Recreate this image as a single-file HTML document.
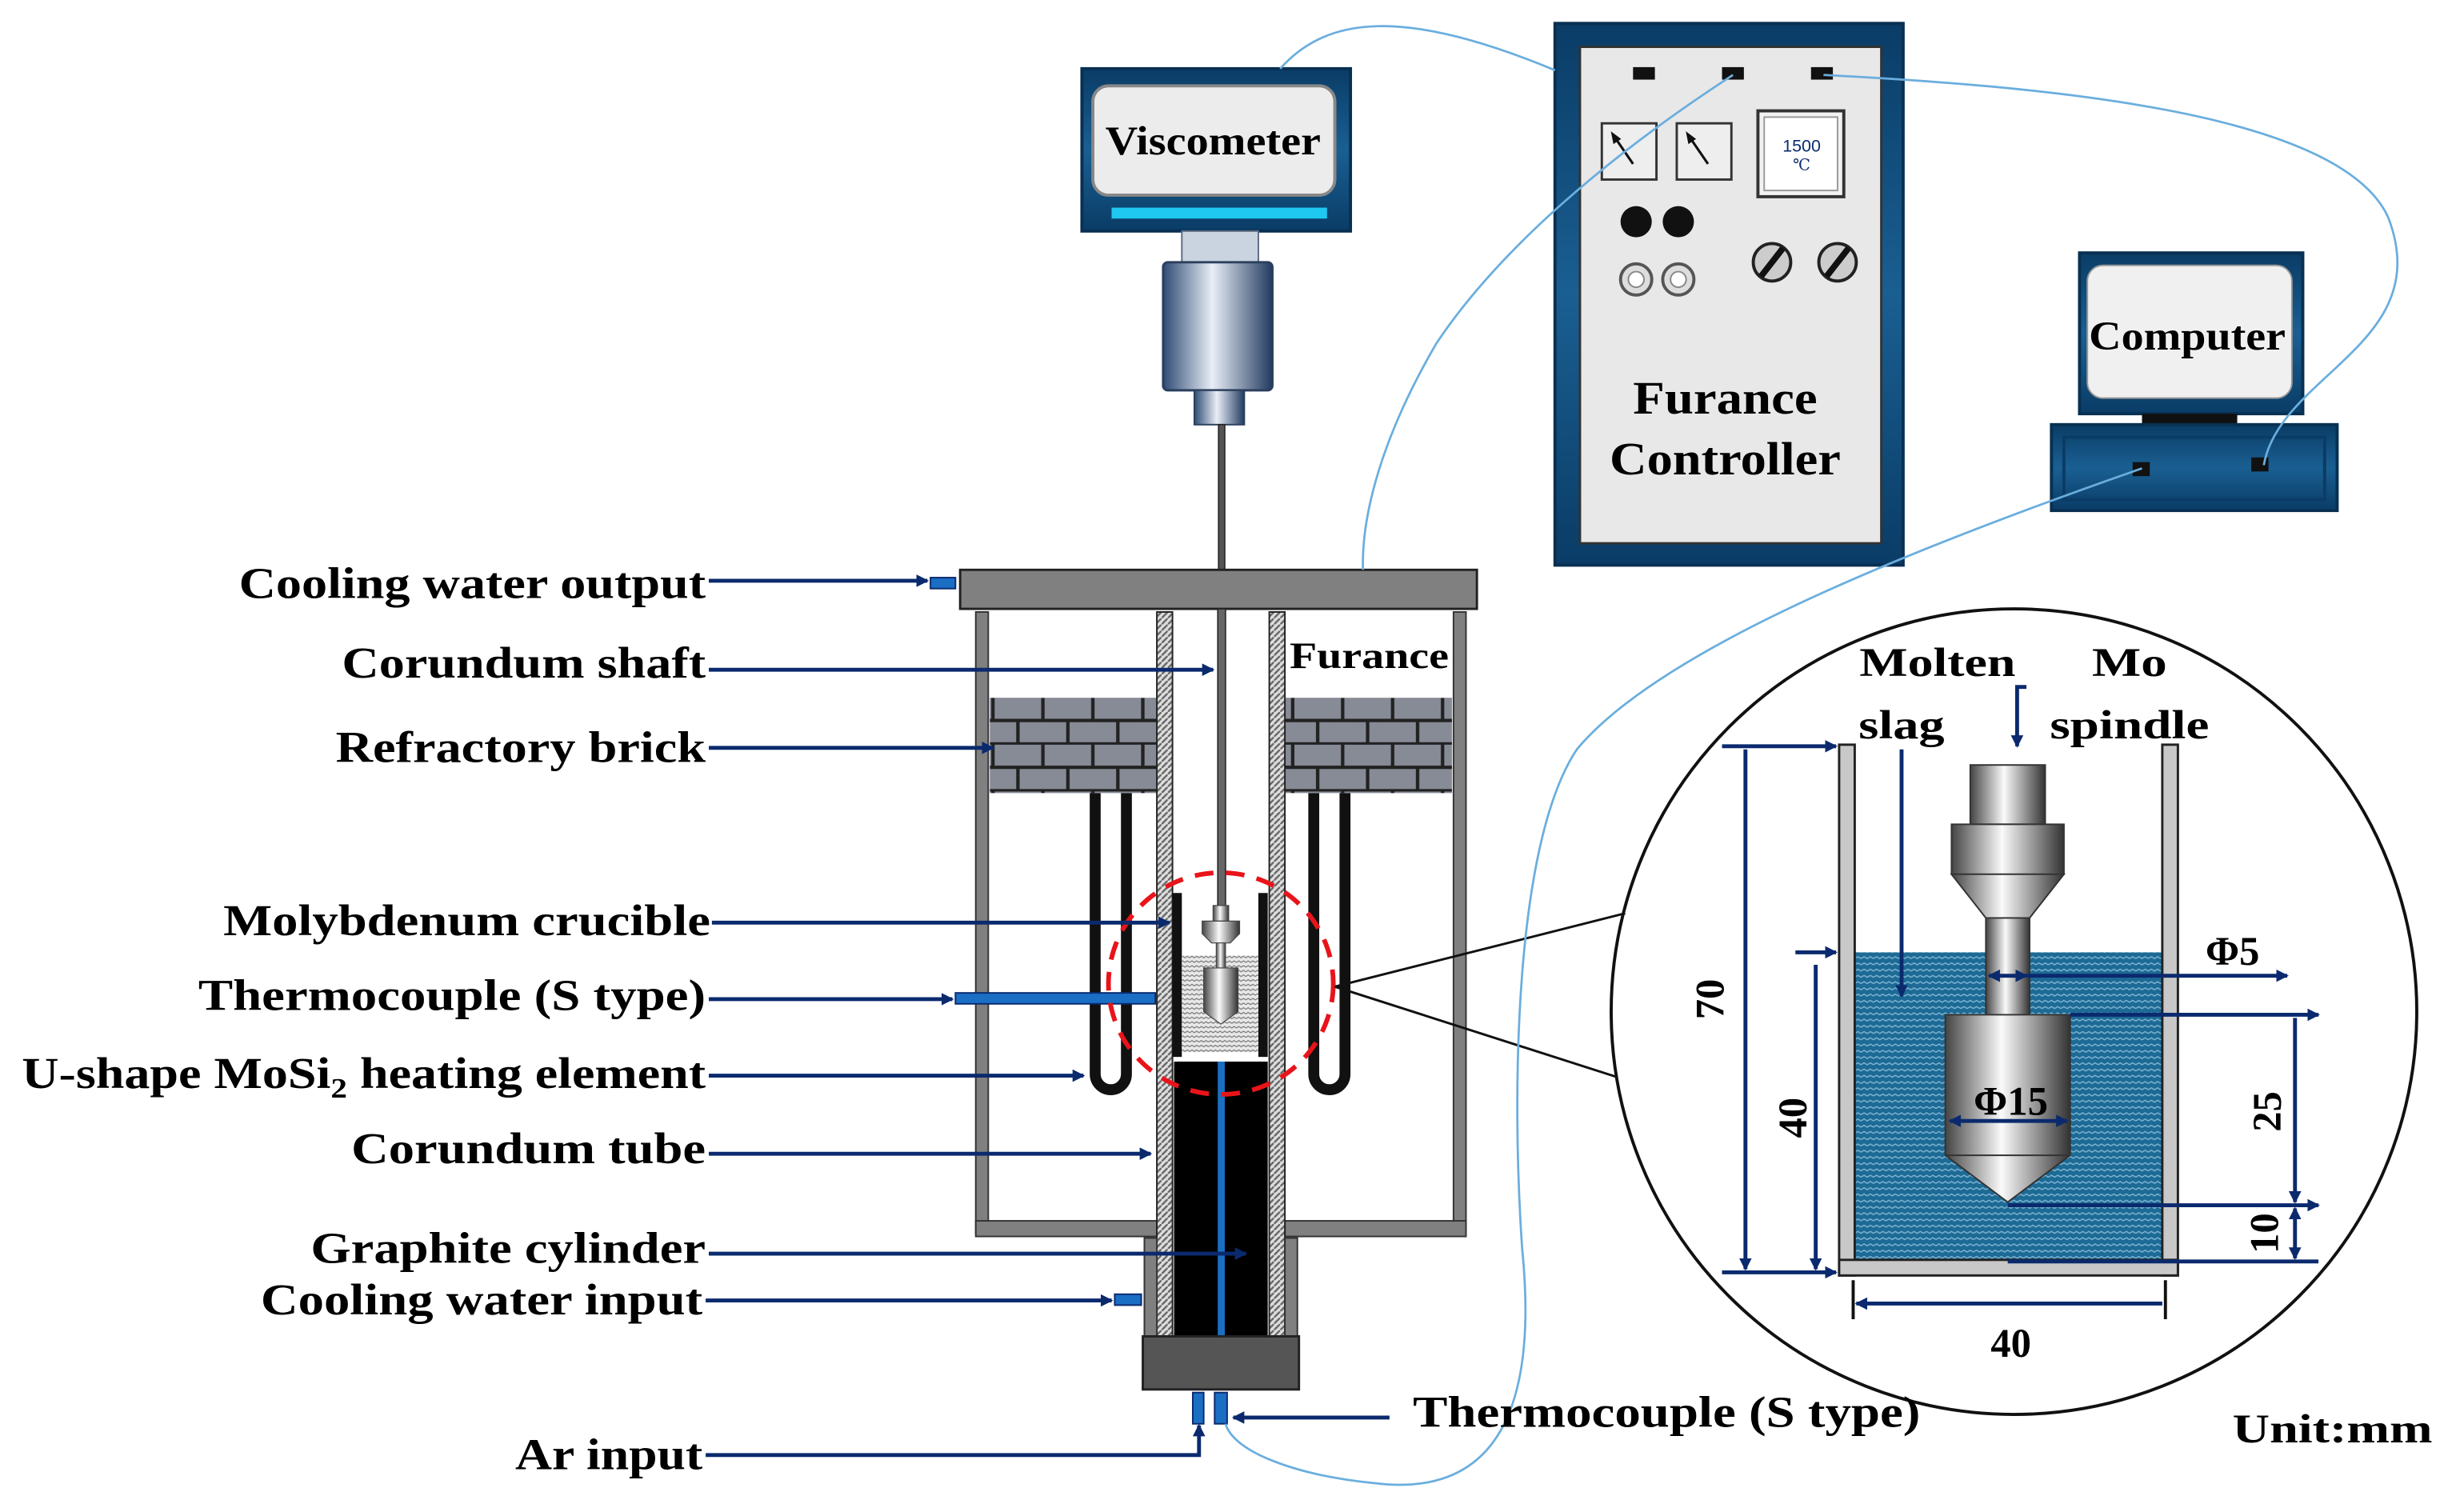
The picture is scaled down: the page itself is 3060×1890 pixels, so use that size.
<!DOCTYPE html>
<html><head><meta charset="utf-8"><style>
html,body{margin:0;padding:0;background:#fff}
svg{display:block}
text{font-family:"Liberation Serif","DejaVu Serif",serif;font-weight:bold;fill:#000}
</style></head><body>
<svg width="3060" height="1890" viewBox="0 0 1568 968.5" preserveAspectRatio="none" xmlns="http://www.w3.org/2000/svg">
<defs>
<marker id="ar" markerWidth="8" markerHeight="8" refX="7" refY="4" orient="auto" markerUnits="userSpaceOnUse"><path d="M0,0 L8,4 L0,8 Z" fill="#0b2a6e"/></marker>
<marker id="al" markerWidth="8" markerHeight="8" refX="1" refY="4" orient="auto" markerUnits="userSpaceOnUse"><path d="M8,0 L0,4 L8,8 Z" fill="#0b2a6e"/></marker>
<pattern id="brick" width="64" height="30" patternUnits="userSpaceOnUse" x="634" y="447">
<rect width="64" height="30" fill="#868b96"/>
<path d="M0,14.5H64 M0,29.5H64 M2,0V15 M34,0V15 M18,15V30 M50,15V30" stroke="#222" stroke-width="2.2"/>
</pattern>
<pattern id="hatch" width="4" height="4" patternUnits="userSpaceOnUse">
<rect width="4" height="4" fill="#ddd"/><path d="M0,4 L4,0" stroke="#666" stroke-width="1.2"/>
</pattern>
<pattern id="wave" width="8" height="4" patternUnits="userSpaceOnUse">
<rect width="8" height="4" fill="#1d6a95"/><path d="M0,2 L2,0.8 L4,2 L6,0.8 L8,2" stroke="#7fb6d4" stroke-width="0.7" fill="none"/>
</pattern>
<pattern id="wave2" width="6" height="3" patternUnits="userSpaceOnUse">
<rect width="6" height="3" fill="#e8e8e8"/><path d="M0,1.5 L1.5,0.5 L3,1.5 L4.5,0.5 L6,1.5" stroke="#777" stroke-width="0.6" fill="none"/>
</pattern>
<linearGradient id="metal" x1="0" x2="1" y1="0" y2="0">
<stop offset="0" stop-color="#444"/><stop offset="0.45" stop-color="#fafafa"/><stop offset="1" stop-color="#333"/>
</linearGradient>
<linearGradient id="bluecyl" x1="0" x2="1">
<stop offset="0" stop-color="#2f4b74"/><stop offset="0.45" stop-color="#e8eef6"/><stop offset="1" stop-color="#223a60"/>
</linearGradient>
<linearGradient id="frame" x1="0" x2="0" y1="0" y2="1">
<stop offset="0" stop-color="#0a3c66"/><stop offset="0.5" stop-color="#1a5f92"/><stop offset="1" stop-color="#0a3c66"/>
</linearGradient>
</defs>

<!-- Viscometer -->
<rect x="693" y="44" width="172" height="104" fill="url(#frame)" stroke="#083052" stroke-width="2"/>
<rect x="700" y="55" width="155" height="70" rx="10" fill="#ececec" stroke="#888" stroke-width="2"/>
<text x="777" y="99" font-size="26" text-anchor="middle" textLength="138" lengthAdjust="spacingAndGlyphs">Viscometer</text>
<rect x="712" y="133" width="138" height="7" fill="#1ec8f0"/>
<rect x="757" y="148" width="49" height="20" fill="#c9d4e0" stroke="#5a6b80"/>
<rect x="745" y="168" width="70" height="82" rx="3" fill="url(#bluecyl)" stroke="#2b3f5e" stroke-width="1.5"/>
<rect x="765" y="250" width="32" height="22" fill="url(#bluecyl)" stroke="#2b3f5e"/>
<rect x="780.5" y="272" width="4" height="93" fill="#555" stroke="#222" stroke-width="0.8"/>

<!-- Furnace controller -->
<rect x="996" y="15" width="223" height="347" fill="url(#frame)" stroke="#083052" stroke-width="2"/>
<rect x="1012" y="30" width="193" height="318" fill="#e8e8e8" stroke="#333" stroke-width="1.5"/>
<rect x="1046" y="43" width="14" height="8" fill="#111"/>
<rect x="1103" y="43" width="14" height="8" fill="#111"/>
<rect x="1160" y="43" width="14" height="8" fill="#111"/>
<rect x="1026" y="79" width="35" height="36" fill="#eee" stroke="#333" stroke-width="1.5"/>
<rect x="1074" y="79" width="35" height="36" fill="#eee" stroke="#333" stroke-width="1.5"/>
<path d="M1046,105 L1033,86 M1033,86 l1,5 l3,-2 z M1094,105 L1081,86 M1081,86 l1,5 l3,-2 z" stroke="#111" stroke-width="1.6" fill="#111"/>
<rect x="1126" y="71" width="55" height="55" fill="#f2f2f2" stroke="#333" stroke-width="2"/>
<rect x="1130" y="75" width="47" height="47" fill="#fff" stroke="#999"/>
<text x="1154" y="97" font-size="11" text-anchor="middle" style="fill:#0a2a6e;font-weight:normal;font-family:'Liberation Sans',sans-serif">1500</text>
<text x="1154" y="109" font-size="10" text-anchor="middle" style="fill:#0a2a6e;font-weight:normal">℃</text>
<circle cx="1048" cy="142" r="10" fill="#111"/><circle cx="1075" cy="142" r="10" fill="#111"/>
<circle cx="1048" cy="179" r="10" fill="#ddd" stroke="#555" stroke-width="2"/><circle cx="1048" cy="179" r="5" fill="#fff" stroke="#888"/>
<circle cx="1075" cy="179" r="10" fill="#ddd" stroke="#555" stroke-width="2"/><circle cx="1075" cy="179" r="5" fill="#fff" stroke="#888"/>
<circle cx="1135" cy="168" r="12" fill="#ccc" stroke="#222" stroke-width="2"/><path d="M1128,177 L1142,159" stroke="#111" stroke-width="4"/>
<circle cx="1177" cy="168" r="12" fill="#ccc" stroke="#222" stroke-width="2"/><path d="M1170,177 L1184,159" stroke="#111" stroke-width="4"/>
<text x="1105" y="265" font-size="30" text-anchor="middle" textLength="118" lengthAdjust="spacingAndGlyphs">Furance</text>
<text x="1105" y="304" font-size="30" text-anchor="middle" textLength="148" lengthAdjust="spacingAndGlyphs">Controller</text>

<!-- Computer -->
<rect x="1332" y="162" width="143" height="103" fill="url(#frame)" stroke="#083052" stroke-width="2"/>
<rect x="1337" y="170" width="131" height="85" rx="10" fill="#f0f0f0" stroke="#999"/>
<text x="1401" y="224" font-size="26" text-anchor="middle" textLength="126" lengthAdjust="spacingAndGlyphs">Computer</text>
<rect x="1372" y="265" width="61" height="8" fill="#111"/>
<rect x="1314" y="272" width="183" height="55" fill="url(#frame)" stroke="#083052" stroke-width="2"/>
<rect x="1322" y="280" width="167" height="40" fill="none" stroke="#0a3c66" stroke-width="2"/>
<rect x="1366" y="296" width="11" height="9" fill="#111"/>
<rect x="1442" y="293" width="11" height="9" fill="#111"/>

<!-- Furnace body -->
<rect x="615" y="365" width="331" height="25" fill="#808080" stroke="#222" stroke-width="1.5"/>
<rect x="596" y="370" width="16" height="7" fill="#1a6fc4" stroke="#0b2a6e"/>
<rect x="625" y="392" width="8" height="398" fill="#808080" stroke="#333"/>
<rect x="931" y="392" width="8" height="398" fill="#808080" stroke="#333"/>
<rect x="625" y="782" width="116" height="10" fill="#808080" stroke="#333"/>
<rect x="823" y="782" width="116" height="10" fill="#808080" stroke="#333"/>
<rect x="634" y="447" width="107" height="61" fill="url(#brick)"/>
<rect x="823" y="447" width="107" height="61" fill="url(#brick)"/>
<text x="877" y="428" font-size="24" text-anchor="middle" textLength="102" lengthAdjust="spacingAndGlyphs">Furance</text>
<!-- shaft inside furnace -->
<rect x="780" y="390" width="5" height="192" fill="#666" stroke="#222" stroke-width="0.8"/>
<!-- heating elements -->
<path d="M701.5,508 V688 a10,10 0 0 0 20,0 V508" fill="none" stroke="#111" stroke-width="7"/>
<path d="M841.5,508 V688 a10,10 0 0 0 20,0 V508" fill="none" stroke="#111" stroke-width="7"/>
<!-- inner tubes -->
<rect x="741" y="392" width="10" height="465" fill="url(#hatch)" stroke="#222"/>
<rect x="813" y="392" width="10" height="465" fill="url(#hatch)" stroke="#222"/>
<rect x="733" y="793" width="8" height="63" fill="#808080" stroke="#333"/>
<rect x="823" y="793" width="8" height="63" fill="#808080" stroke="#333"/>
<rect x="714" y="829" width="17" height="7" fill="#1a6fc4" stroke="#0b2a6e"/>
<!-- crucible -->
<rect x="751" y="572" width="6" height="105" fill="#111"/>
<rect x="806" y="572" width="6" height="105" fill="#111"/>
<rect x="757" y="612" width="49" height="62" fill="url(#wave2)"/>
<rect x="752" y="680" width="60" height="176" fill="#000"/>
<rect x="780" y="680" width="4.5" height="176" fill="#1a6fc4"/>
<rect x="777" y="580" width="10" height="10" fill="url(#metal)" stroke="#444" stroke-width="0.6"/>
<path d="M770,590 H794 V598 L788,604 H776 L770,598 Z" fill="url(#metal)" stroke="#444" stroke-width="0.6"/>
<rect x="779" y="604" width="6" height="16" fill="url(#metal)" stroke="#444" stroke-width="0.5"/>
<path d="M771,620 H793 V648 L782,656 L771,648 Z" fill="url(#metal)" stroke="#444" stroke-width="0.6"/>
<rect x="732" y="856" width="100" height="34" fill="#555" stroke="#222" stroke-width="1.5"/>
<rect x="764" y="892" width="7" height="20" fill="#1a6fc4" stroke="#0b2a6e"/>
<rect x="778" y="892" width="8" height="20" fill="#1a6fc4" stroke="#0b2a6e"/>
<rect x="612" y="636" width="128" height="7" fill="#1a6fc4" stroke="#0b2a6e"/>
<ellipse cx="782" cy="630" rx="72" ry="71" fill="none" stroke="#e8141a" stroke-width="3" stroke-dasharray="12,8"/>

<!-- callout lines and circle -->
<path d="M855,632 L1041,585 M855,632 L1036,690" stroke="#111" stroke-width="1.5" fill="none"/>
<circle cx="1290" cy="648" r="258" fill="none" stroke="#111" stroke-width="2"/>

<!-- Light blue cables -->
<g fill="none" stroke="#6aaede" stroke-width="1.4">
<path d="M820,44 C850,10 900,5 996,45"/>
<path d="M1110,48 C1030,100 960,160 920,220 C885,280 872,330 873,365"/>
<path d="M1168,48 C1300,55 1500,70 1530,140 C1560,220 1460,240 1450,298"/>
<path d="M1372,300 C1200,360 1060,420 1010,480 C970,540 968,700 975,800 C985,900 960,960 880,950 C830,945 790,930 785,912"/>
</g>

<!-- Inset detail -->
<rect x="1188" y="610" width="197" height="197" fill="url(#wave)"/>
<rect x="1178" y="477" width="10" height="340" fill="#c8c8c8" stroke="#222" stroke-width="1.5"/>
<rect x="1385" y="477" width="10" height="340" fill="#c8c8c8" stroke="#222" stroke-width="1.5"/>
<rect x="1178" y="807" width="217" height="10" fill="#c8c8c8" stroke="#222" stroke-width="1.5"/>
<rect x="1262" y="490" width="48" height="38" fill="url(#metal)" stroke="#333"/>
<rect x="1250" y="528" width="72" height="32" fill="url(#metal)" stroke="#333"/>
<path d="M1250,560 H1322 L1300,588 H1272 Z" fill="url(#metal)" stroke="#333"/>
<rect x="1272" y="588" width="28" height="62" fill="url(#metal)" stroke="#333"/>
<path d="M1246,650 H1326 V740 L1286,770 L1246,740 Z" fill="url(#metal)" stroke="#333"/>
<path d="M1246,740 H1326" stroke="#333"/>

<g stroke="#0b2a6e" stroke-width="2.5" fill="none">
<path d="M1103,478 H1176" marker-end="url(#ar)"/>
<path d="M1103,815 H1176" marker-end="url(#ar)"/>
<path d="M1118,480 V813" marker-end="url(#ar)"/>
<path d="M1150,610 H1176" marker-end="url(#ar)"/>
<path d="M1163,618 V813" marker-end="url(#ar)"/>
<path d="M1218,480 V638" marker-end="url(#ar)"/>
<path d="M1298,440 H1292 V478" marker-end="url(#ar)"/>
<path d="M1274,625 H1298" marker-start="url(#al)" marker-end="url(#ar)"/>
<path d="M1298,625 H1465" marker-end="url(#ar)"/>
<path d="M1326,650 H1485" marker-end="url(#ar)"/>
<path d="M1470,652 V770" marker-end="url(#ar)"/>
<path d="M1286,772 H1485" marker-end="url(#ar)"/>
<path d="M1470,774 V806" marker-start="url(#al)" marker-end="url(#ar)"/>
<path d="M1286,808 H1485"/>
<path d="M1249,718 H1324" marker-start="url(#al)" marker-end="url(#ar)"/>
<path d="M1189,835 H1385" marker-start="url(#al)"/>
</g>
<path d="M1187,820 V845 M1387,820 V845" stroke="#111" stroke-width="2"/>
<text x="1241" y="433" font-size="26" text-anchor="middle" textLength="100" lengthAdjust="spacingAndGlyphs">Molten</text>
<text x="1218" y="473" font-size="26" text-anchor="middle" textLength="55" lengthAdjust="spacingAndGlyphs">slag</text>
<text x="1364" y="433" font-size="26" text-anchor="middle" textLength="48" lengthAdjust="spacingAndGlyphs">Mo</text>
<text x="1364" y="473" font-size="26" text-anchor="middle" textLength="102" lengthAdjust="spacingAndGlyphs">spindle</text>
<text x="1430" y="618" font-size="26" text-anchor="middle">Φ5</text>
<text x="1288" y="714" font-size="26" text-anchor="middle">Φ15</text>
<text x="1288" y="869" font-size="26" text-anchor="middle">40</text>
<text transform="translate(1104,640) rotate(-90)" font-size="26" text-anchor="middle">70</text>
<text transform="translate(1157,716) rotate(-90)" font-size="26" text-anchor="middle">40</text>
<text transform="translate(1461,712) rotate(-90)" font-size="26" text-anchor="middle">25</text>
<text transform="translate(1459,790) rotate(-90)" font-size="26" text-anchor="middle">10</text>
<text x="1494" y="924" font-size="26" text-anchor="middle" textLength="128" lengthAdjust="spacingAndGlyphs">Unit:mm</text>

<!-- Left labels & arrows -->
<g font-size="28">
<text x="153" y="383" textLength="299" lengthAdjust="spacingAndGlyphs">Cooling water output</text>
<text x="219" y="434" textLength="233" lengthAdjust="spacingAndGlyphs">Corundum shaft</text>
<text x="215" y="488" textLength="237" lengthAdjust="spacingAndGlyphs">Refractory brick</text>
<text x="143" y="599" textLength="312" lengthAdjust="spacingAndGlyphs">Molybdenum crucible</text>
<text x="127" y="647" textLength="325" lengthAdjust="spacingAndGlyphs">Thermocouple (S type)</text>
<text x="14" y="697" textLength="438" lengthAdjust="spacingAndGlyphs">U-shape MoSi<tspan font-size="18" dy="6">2</tspan><tspan dy="-6"> heating element</tspan></text>
<text x="225" y="745" textLength="227" lengthAdjust="spacingAndGlyphs">Corundum tube</text>
<text x="199" y="809" textLength="253" lengthAdjust="spacingAndGlyphs">Graphite cylinder</text>
<text x="167" y="842" textLength="283" lengthAdjust="spacingAndGlyphs">Cooling water input</text>
<text x="330" y="941" textLength="120" lengthAdjust="spacingAndGlyphs">Ar input</text>
<text x="905" y="914" textLength="325" lengthAdjust="spacingAndGlyphs">Thermocouple (S type)</text>
</g>
<g stroke="#0b2a6e" stroke-width="2.5" fill="none">
<path d="M454,372 H594" marker-end="url(#ar)"/>
<path d="M454,429 H777" marker-end="url(#ar)"/>
<path d="M454,479 H636" marker-end="url(#ar)"/>
<path d="M456,591 H749" marker-end="url(#ar)"/>
<path d="M454,640 H610" marker-end="url(#ar)"/>
<path d="M454,689 H694" marker-end="url(#ar)"/>
<path d="M454,739 H737" marker-end="url(#ar)"/>
<path d="M454,803 H798" marker-end="url(#ar)"/>
<path d="M452,833 H712" marker-end="url(#ar)"/>
<path d="M452,932 H768 V913" marker-end="url(#ar)"/>
<path d="M890,908 H790" marker-end="url(#ar)"/>
</g>
</svg>
</body></html>
